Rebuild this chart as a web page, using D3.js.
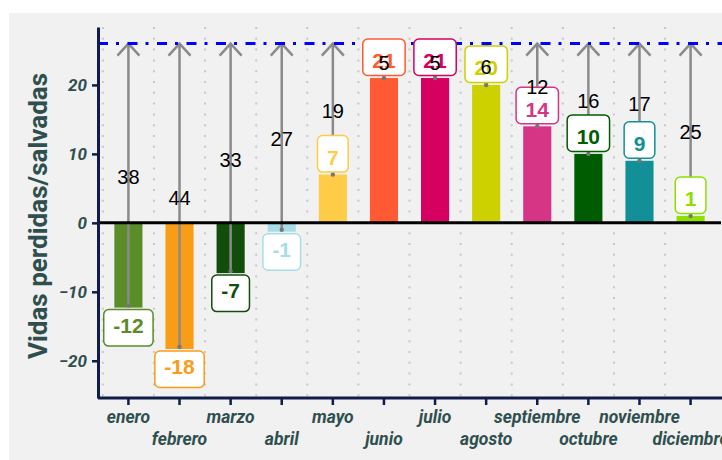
<!DOCTYPE html>
<html>
<head>
<meta charset="utf-8">
<script src="https://cdn.jsdelivr.net/npm/d3@7"></script>
<style>
  body { margin: 0; background: #ffffff; }
  svg { display: block; }
</style>
</head>
<body>
<svg id="chart" width="722" height="460"></svg>
<script>
// ---- data ----
const months = ["enero","febrero","marzo","abril","mayo","junio","julio","agosto","septiembre","octubre","noviembre","diciembre"];
const values = [-12, -18, -7, -1, 7, 21, 21, 20, 14, 10, 9, 1];
const colors = ["#5a8c28","#f99c16","#134d0c","#a9dde6","#ffcc47","#ff5a33","#d5005f","#cdd100","#d63585","#005c00","#138f97","#8ee000"];
const target = 26;
const yTicks = [-20, -10, 0, 10, 20];
const yTitle = "Vidas perdidas/salvadas";

(function () {
// ---- layout ----
const W = 722, H = 460;
const pL = 98, pR = 721, pT = 27, pB = 398;
const navy = "#0f1d48", slate = "#2f4f4f", gray = "#8a8a8a";

const svg = d3.select("#chart");
svg.append("rect").attr("x", 9).attr("y", 13).attr("width", W - 9).attr("height", H - 13).attr("fill", "#f1f1f1");

const x = d3.scaleBand().domain(months).range([pL, pR]).paddingInner(0.45).paddingOuter(0.32);
const y = d3.scaleLinear().domain([-25.4, 28.4]).range([pB, pT]);
const step = x.step();
const cx = m => x(m) + x.bandwidth() / 2;

const data = months.map((m, i) => ({ m, v: values[i], c: colors[i], i }));

// gridlines (dotted, vertical)
svg.append("g").selectAll("line").data(months).join("line")
  .attr("x1", m => cx(m) - step / 2).attr("x2", m => cx(m) - step / 2)
  .attr("y1", pT).attr("y2", pB)
  .attr("stroke", "#c8c8c8").attr("stroke-width", 2).attr("stroke-dasharray", "2,8.8");

// bars
svg.append("g").selectAll("rect").data(data).join("rect")
  .attr("x", d => x(d.m)).attr("width", x.bandwidth())
  .attr("y", d => Math.min(y(d.v), y(0)))
  .attr("height", d => Math.abs(y(d.v) - y(0)) + (d.v < 0 ? 2 : 0))
  .attr("fill", d => d.c);

// arrow marker
const defs = svg.append("defs");
defs.append("marker").attr("id", "chev")
  .attr("viewBox", "-14 -14 28 28").attr("refX", 0).attr("refY", 0)
  .attr("markerWidth", 28).attr("markerHeight", 28).attr("markerUnits", "userSpaceOnUse")
  .attr("orient", "auto")
  .append("path").attr("d", "M-12,-11 L0,0 L-12,11")
  .attr("fill", "none").attr("stroke", gray).attr("stroke-width", 2.5);

// arrows
const arrows = svg.append("g");
arrows.selectAll("line").data(data).join("line")
  .attr("x1", d => cx(d.m)).attr("x2", d => cx(d.m))
  .attr("y1", d => y(d.v)).attr("y2", y(target))
  .attr("stroke", gray).attr("stroke-width", 2.5)
  .attr("marker-end", "url(#chev)");
arrows.selectAll("circle").data(data).join("circle")
  .attr("cx", d => cx(d.m)).attr("cy", d => y(d.v)).attr("r", 2.2).attr("fill", "#777");

// zero line
svg.append("line").attr("x1", pL).attr("x2", pR).attr("y1", y(0)).attr("y2", y(0))
  .attr("stroke", "#000").attr("stroke-width", 3);

// target reference line
svg.append("line").attr("x1", pL).attr("x2", W).attr("y1", y(target)).attr("y2", y(target))
  .attr("stroke", "#0000ff").attr("stroke-width", 3).attr("stroke-dasharray", "10,8,3,8.5");

// value boxes
const boxH = 36.5;
const boxes = svg.append("g").selectAll("g").data(data).join("g");
boxes.append("text")
  .attr("x", d => cx(d.m))
  .attr("y", d => d.v >= 0 ? y(d.v) - 9.8 : y(d.v) + 27)
  .attr("text-anchor", "middle")
  .attr("font-family", "'Liberation Sans', Arial, sans-serif")
  .attr("font-weight", "bold").attr("font-size", 21)
  .attr("fill", d => d.c)
  .text(d => d.v);
boxes.each(function(d) {
  const g = d3.select(this);
  const w = g.select("text").node().getComputedTextLength() + 19;
  g.insert("rect", "text")
    .attr("x", cx(d.m) - w / 2).attr("width", w)
    .attr("y", d.v >= 0 ? y(d.v) - 2.5 - boxH : y(d.v) + 4)
    .attr("height", boxH).attr("rx", 5).attr("ry", 5)
    .attr("fill", "#ffffff").attr("stroke", d.c).attr("stroke-width", 1.5);
});

// difference labels at arrow midpoints
svg.append("g").selectAll("text").data(data).join("text")
  .attr("x", d => cx(d.m))
  .attr("y", d => y((d.v + target) / 2) + 9.3)
  .attr("text-anchor", "middle")
  .attr("font-family", "'Liberation Sans', Arial, sans-serif")
  .attr("font-size", 20).attr("fill", "#000")
  .text(d => target - d.v);

// axes
const yAxis = svg.append("g").attr("transform", `translate(${pL},0)`)
  .call(d3.axisLeft(y).tickValues(yTicks).tickSize(6).tickSizeOuter(0).tickPadding(5));
const xAxis = svg.append("g").attr("transform", `translate(0,${pB})`)
  .call(d3.axisBottom(x).tickSize(7).tickSizeOuter(0));

[yAxis, xAxis].forEach(a => {
  a.select(".domain").attr("stroke", navy).attr("stroke-width", 3);
  a.selectAll(".tick line").attr("stroke", navy).attr("stroke-width", 2.5);
  a.selectAll(".tick text")
    .attr("font-family", "Roboto, sans-serif").attr("font-weight", "bold")
    .attr("font-style", "italic").attr("font-size", 17.5).attr("fill", slate);
});
yAxis.selectAll(".tick text").attr("font-size", 17);
xAxis.select(".domain").attr("d", `M${pL},0H${W}`);
xAxis.selectAll(".tick text")
  .attr("dy", null)
  .attr("y", (d, i) => i % 2 === 0 ? 24.5 : 47);

// y title
svg.append("text")
  .attr("transform", "translate(47,216) rotate(-90)")
  .attr("text-anchor", "middle")
  .attr("font-family", "Roboto, sans-serif").attr("font-weight", "bold")
  .attr("font-size", 26).attr("fill", slate)
  .text(yTitle);
})();
</script>
</body>
</html>
